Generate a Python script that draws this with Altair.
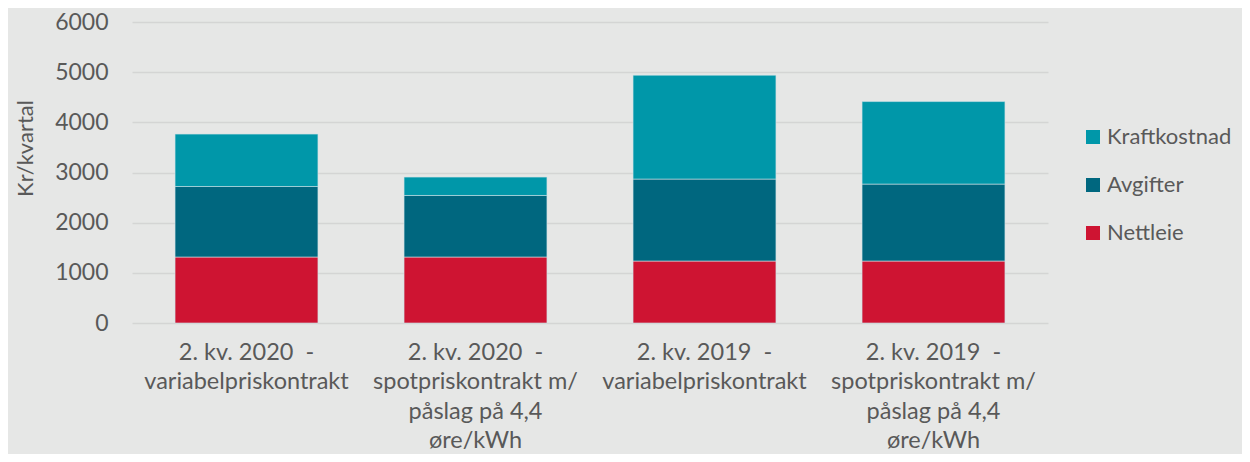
import altair as alt
import pandas as pd

categories = [
    "2. kv. 2020 \u00a0-|variabelpriskontrakt",
    "2. kv. 2020 \u00a0-|spotpriskontrakt m/|påslag på 4,4|øre/kWh",
    "2. kv. 2019 \u00a0-|variabelpriskontrakt",
    "2. kv. 2019 \u00a0-|spotpriskontrakt m/|påslag på 4,4|øre/kWh",
]
series = ["Nettleie", "Avgifter", "Kraftkostnad"]
nettleie = [1315, 1315, 1235, 1235]
avgifter = [1406, 1227, 1634, 1534]
kraftkostnad = [1044, 366, 2071, 1645]
colors = {"Kraftkostnad": "#0097A9", "Avgifter": "#00677F", "Nettleie": "#CE1432"}

rows = []
for i, c in enumerate(categories):
    for s, vals in zip(series, [nettleie, avgifter, kraftkostnad]):
        rows.append({"kategori": c, "serie": s, "verdi": vals[i], "ordre": series.index(s)})
df = pd.DataFrame(rows)

FONT = "Lato"
TXT = "#595959"
legend_order = ["Kraftkostnad", "Avgifter", "Nettleie"]

chart = alt.Chart(df).mark_bar(stroke="#cfe3e8", strokeWidth=0.6).encode(
    x=alt.X("kategori:N", sort=categories, title=None,
            scale=alt.Scale(paddingInner=0.376, paddingOuter=0.188),
            axis=alt.Axis(labelAngle=0, labelExpr="split(datum.label, '|')",
                          labelFontSize=23.5, labelColor=TXT, labelFont=FONT,
                          labelLineHeight=29.5, labelPadding=17, ticks=False,
                          domain=False, grid=False, labelBaseline="top",
                          labelLimit=0)),
    y=alt.Y("verdi:Q", stack="zero", title="Kr/kvartal",
            scale=alt.Scale(domain=[0, 6000]),
            axis=alt.Axis(values=[0, 1000, 2000, 3000, 4000, 5000, 6000], format="d",
                          labelFontSize=23, labelColor=TXT, labelFont=FONT,
                          labelPadding=24, ticks=False, domain=False,
                          gridColor="#D4D5D4", gridWidth=1.5,
                          titleFont=FONT, titleFontSize=22, titleColor=TXT,
                          titleFontWeight="normal", titleX=-107, titleY=126,
                          titleBaseline="middle", titleAngle=-90)),
    color=alt.Color("serie:N",
                    scale=alt.Scale(domain=legend_order,
                                    range=[colors[s] for s in legend_order]),
                    legend=alt.Legend(title=None, orient="none", legendX=950, legendY=104,
                                      symbolType="square", symbolSize=196,
                                      symbolStrokeWidth=0, labelFontSize=22,
                                      labelFont=FONT, labelColor=TXT, rowPadding=26,
                                      labelOffset=3, labelLimit=0)),
    order=alt.Order("ordre:Q"),
).properties(
    width=916, height=301,
    background="#E6E7E6",
    padding={"left": 124, "top": 14, "right": 194, "bottom": 131},
    autosize=alt.AutoSizeParams(type="none"),
).configure_view(stroke=None)

chart.save("out.html", embed_options={"renderer": "svg", "actions": False})
